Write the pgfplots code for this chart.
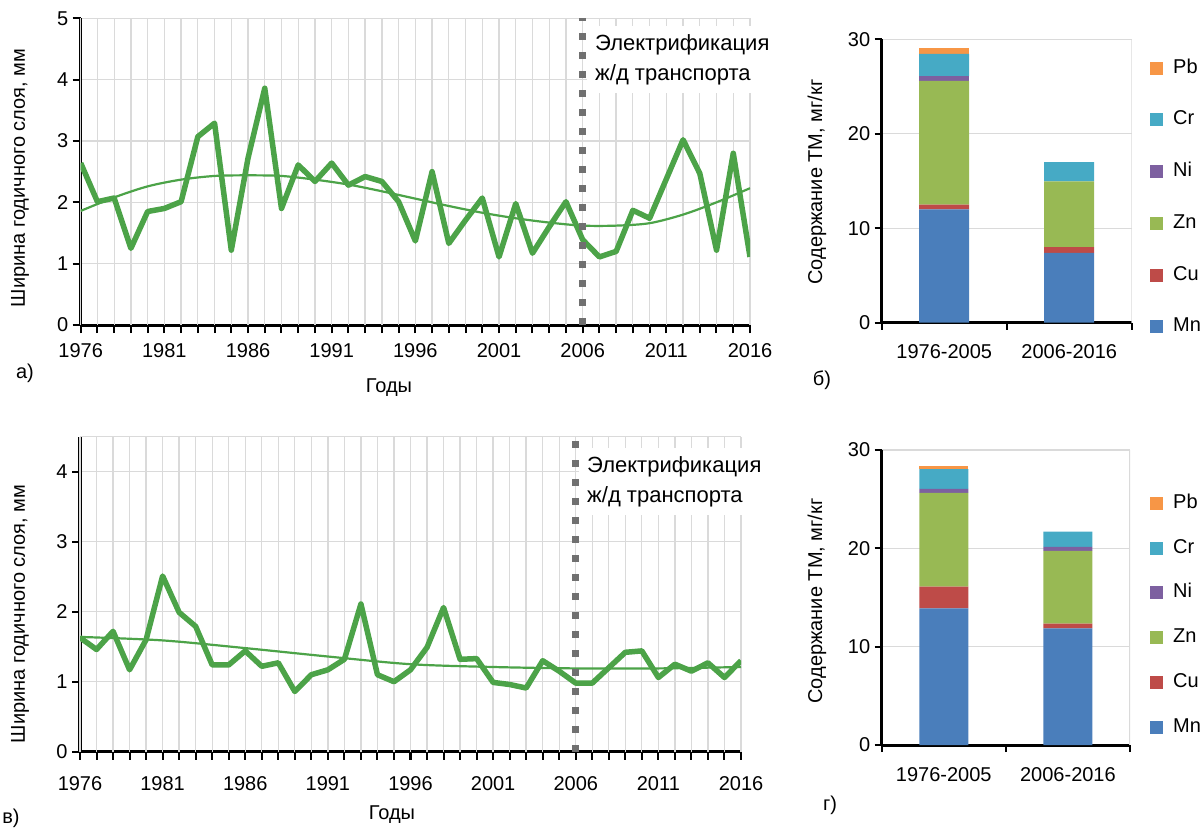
\documentclass[border=0pt]{standalone}
\usepackage{fontspec}
\setmainfont{Liberation Sans}
\usepackage{pgfplots}
\pgfplotsset{compat=1.18}
\definecolor{lgreen}{RGB}{76,163,72}
\definecolor{dotgray}{RGB}{112,112,112}
\definecolor{gridgray}{RGB}{218,218,218}
\definecolor{mn}{RGB}{74,126,187}
\definecolor{cu}{RGB}{190,75,72}
\definecolor{zn}{RGB}{152,185,84}
\definecolor{ni}{RGB}{125,96,160}
\definecolor{cr}{RGB}{70,170,197}
\definecolor{pb}{RGB}{247,150,70}
\newcommand{\fs}{\fontsize{20}{24}\selectfont}
\newcommand{\fa}{\fontsize{22}{30}\selectfont}

\pgfplotsset{
  lsq/.style={legend image code/.code={\fill[fill=#1] (0pt,-6.5pt) rectangle (13pt,6.5pt);}},
  common/.style={
    scale only axis,
    axis x line*=bottom, axis y line*=left,
    axis line style={black, line width=3pt, -},
    grid style={gridgray, line width=1.3pt},
    major grid style={gridgray, line width=1.3pt},
    tick style={black, line width=2pt},
    major tick style={black, line width=2pt},
    tick align=outside,
    tick label style={font=\fs},
    /pgf/number format/assume math mode=true,
    /pgf/number format/1000 sep={},
  },
  linechart/.style={
    common,
    major tick length=8pt,
    xmin=1976, xmax=2016, ymin=0,
    xtick={1976,1981,...,2016},
    xmajorgrids=false, ymajorgrids,
    extra x ticks={1976,...,2016},
    extra x tick labels={},
    extra x tick style={xmajorgrids=true},
    yticklabel style={xshift=-1pt},
    xlabel={Годы},
    ylabel={Ширина годичного слоя, мм},
  },
  barchart/.style={
    common,
    major tick length=7pt,
    ybar stacked, 
    xmin=-0.5, xmax=1.5, ymin=0, ymax=30,
    ytick={0,10,20,30}, ymajorgrids,
    xtick={-0.5,0.5,1.5}, xticklabels={},
    extra x ticks={0,1}, extra x tick labels={1976-2005,2006-2016},
    extra x tick style={major tick length=0pt},
    yticklabel style={xshift=-1pt},
    ylabel={Содержание ТМ, мг/кг},
    reverse legend, legend cell align=left,
  },
}

\begin{document}
\begin{tikzpicture}
\path[use as bounding box] (0pt,0pt) rectangle (1204pt,-832pt);

% ---------- а) ----------
\begin{axis}[linechart,
  at={(80.7pt,-325pt)}, anchor=south west, width=669.3pt, height=306.7pt,
  ymax=5, ytick={0,1,2,3,4,5},
  xticklabel style={anchor=center, yshift=-18pt},
  every axis x label/.style={at={(rel axis cs:0.4606,-0.205)}, anchor=center, font=\fs},
  every axis y label/.style={at={(rel axis cs:-0.0907,0.479)}, anchor=center, rotate=90, font=\fs},
]
\addplot[lgreen, line width=5.5pt, line join=round, mark=none] coordinates {
(1976,2.64) (1977,2.01) (1978,2.07) (1979,1.25) (1980,1.85) (1981,1.90)
(1982,2.01) (1983,3.07) (1984,3.29) (1985,1.22) (1986,2.72) (1987,3.86)
(1988,1.90) (1989,2.61) (1990,2.34) (1991,2.64) (1992,2.28) (1993,2.42)
(1994,2.34) (1995,2.01) (1996,1.37) (1997,2.50) (1998,1.33) (1999,1.71)
(2000,2.07) (2001,1.11) (2002,1.98) (2003,1.17) (2004,1.60) (2005,2.01)
(2006,1.39) (2007,1.11) (2008,1.20) (2009,1.87) (2010,1.74) (2011,2.38)
(2012,3.02) (2013,2.47) (2014,1.22) (2015,2.80) (2016,1.11)};
\addplot[lgreen, line width=2.2pt, smooth, mark=none] coordinates {
(1976,1.86) (1978,2.08) (1980,2.26) (1982,2.37) (1984,2.43) (1986,2.44)
(1988,2.43) (1990,2.37) (1992,2.29) (1994,2.18) (1996,2.06) (1998,1.94)
(2000,1.83) (2002,1.74) (2004,1.67) (2006,1.62) (2008,1.62) (2010,1.66)
(2012,1.80) (2014,2.00) (2016,2.23)};
\addplot[dotgray, line width=7pt, dash pattern=on 7pt off 12pt, mark=none] coordinates {(2006,0) (2006,5)};
\end{axis}
\node[fill=white, inner sep=8pt, align=left, anchor=north west, font=\fa] at (587pt,-26pt) {Электрификация\\ж/д транспорта};
\node[font=\fs] at (25pt,-373pt) {а)};

% ---------- в) ----------
\begin{axis}[linechart,
  at={(80pt,-751.7pt)}, anchor=south west, width=661pt, height=315pt,
  ymax=4.5, ytick={0,1,2,3,4},
  xticklabel style={anchor=center, yshift=-24pt},
  every axis x label/.style={at={(rel axis cs:0.472,-0.201)}, anchor=center, font=\fs},
  every axis y label/.style={at={(rel axis cs:-0.0908,0.437)}, anchor=center, rotate=90, font=\fs},
]
\draw[gridgray, line width=1.3pt] (rel axis cs:0,1) -- (rel axis cs:1,1);
\addplot[lgreen, line width=5.5pt, line join=round, mark=none] coordinates {
(1976,1.63) (1977,1.46) (1978,1.72) (1979,1.17) (1980,1.60) (1981,2.51)
(1982,1.99) (1983,1.79) (1984,1.24) (1985,1.24) (1986,1.44) (1987,1.22)
(1988,1.27) (1989,0.86) (1990,1.10) (1991,1.17) (1992,1.32) (1993,2.11)
(1994,1.10) (1995,1.00) (1996,1.17) (1997,1.49) (1998,2.06) (1999,1.32)
(2000,1.33) (2001,0.99) (2002,0.96) (2003,0.91) (2004,1.30) (2005,1.15)
(2006,0.98) (2007,0.98) (2008,1.20) (2009,1.42) (2010,1.44) (2011,1.06)
(2012,1.25) (2013,1.15) (2014,1.27) (2015,1.06) (2016,1.30)};
\addplot[lgreen, line width=2.2pt, smooth, mark=none] coordinates {
(1976,1.64) (1981,1.59) (1986,1.48) (1991,1.36) (1996,1.25) (2001,1.21)
(2006,1.19) (2011,1.19) (2016,1.21)};
\addplot[dotgray, line width=7pt, dash pattern=on 7pt off 12pt, mark=none] coordinates {(2006,0) (2006,4.5)};
\end{axis}
\node[fill=white, inner sep=8pt, align=left, anchor=north west, font=\fa] at (579pt,-448pt) {Электрификация\\ж/д транспорта};
\node[font=\fs] at (11pt,-818pt) {в)};

% ---------- б) ----------
\begin{axis}[barchart,
  at={(881.7pt,-322.7pt)}, anchor=south west, width=250pt, height=283.4pt,
  bar width=50pt,
  xticklabel style={anchor=center, yshift=-29pt},
  every axis y label/.style={at={(rel axis cs:-0.259,0.496)}, anchor=center, rotate=90, font=\fs},
  legend style={draw=none, fill=none, inner sep=0pt, at={(rel axis cs:1.073,0.934)}, anchor=north west,
    font=\fs, row sep=31.7pt, column sep=10pt, nodes={inner sep=0pt, text height=15pt, text depth=5pt}},
]
\draw[gridgray, line width=1.3pt] (rel axis cs:1,0) -- (rel axis cs:1,1);
\addplot[fill=mn, draw=none, lsq=mn] coordinates {(0,12.0) (1,7.4)};
\addlegendentry{Mn}
\addplot[fill=cu, draw=none, lsq=cu] coordinates {(0,0.5) (1,0.6)};
\addlegendentry{Cu}
\addplot[fill=zn, draw=none, lsq=zn] coordinates {(0,13.1) (1,6.95)};
\addlegendentry{Zn}
\addplot[fill=ni, draw=none, lsq=ni] coordinates {(0,0.5) (1,0)};
\addlegendentry{Ni}
\addplot[fill=cr, draw=none, lsq=cr] coordinates {(0,2.35) (1,2.05)};
\addlegendentry{Cr}
\addplot[fill=pb, draw=none, lsq=pb] coordinates {(0,0.65) (1,0)};
\addlegendentry{Pb}
\end{axis}
\node[font=\fs] at (822pt,-380pt) {б)};

% ---------- г) ----------
\begin{axis}[barchart,
  at={(881.7pt,-745pt)}, anchor=south west, width=248.3pt, height=295pt,
  bar width=49pt,
  xticklabel style={anchor=center, yshift=-30pt},
  every axis y label/.style={at={(rel axis cs:-0.2606,0.488)}, anchor=center, rotate=90, font=\fs},
  legend style={draw=none, fill=none, inner sep=0pt, at={(rel axis cs:1.0806,0.854)}, anchor=north west,
    font=\fs, row sep=24.8pt, column sep=10pt, nodes={inner sep=0pt, text height=15pt, text depth=5pt}},
]
\draw[gridgray, line width=1.3pt] (rel axis cs:1,0) -- (rel axis cs:1,1);
\addplot[fill=mn, draw=none, lsq=mn] coordinates {(0,13.9) (1,11.85)};
\addlegendentry{Mn}
\addplot[fill=cu, draw=none, lsq=cu] coordinates {(0,2.2) (1,0.5)};
\addlegendentry{Cu}
\addplot[fill=zn, draw=none, lsq=zn] coordinates {(0,9.55) (1,7.4)};
\addlegendentry{Zn}
\addplot[fill=ni, draw=none, lsq=ni] coordinates {(0,0.4) (1,0.4)};
\addlegendentry{Ni}
\addplot[fill=cr, draw=none, lsq=cr] coordinates {(0,2.0) (1,1.55)};
\addlegendentry{Cr}
\addplot[fill=pb, draw=none, lsq=pb] coordinates {(0,0.35) (1,0)};
\addlegendentry{Pb}
\end{axis}
\node[font=\fs] at (830pt,-805pt) {г)};
\end{tikzpicture}
\end{document}
